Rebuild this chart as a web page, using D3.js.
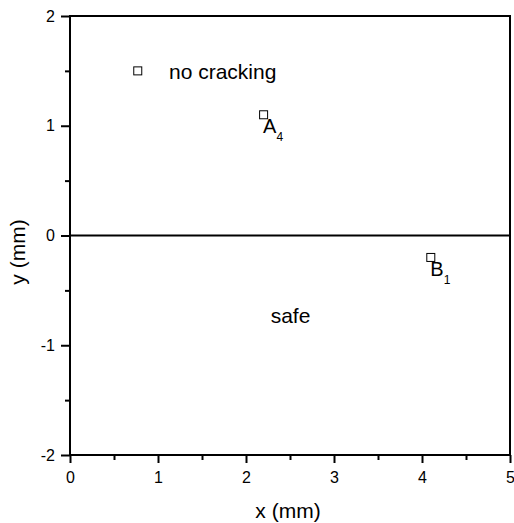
<!DOCTYPE html>
<html lang="en">
<head>
<meta charset="utf-8">
<title>Cracking map</title>
<script src="https://cdn.jsdelivr.net/npm/d3@7"></script>
<style>
  body { margin: 0; background: #fff; }
  text, tspan { font-family: Arial, "Liberation Sans", sans-serif; fill: #000; }
</style>
</head>
<body>
<script>
// data
var xTicks = [0, 1, 2, 3, 4, 5];
var yTicks = [-2, -1, 0, 1, 2];
var pointNames = ["A", "B"];
var pointSubs = ["4", "1"];
var pointX = [2.2, 4.1];
var pointY = [1.1, -0.2];
var legendText = "no cracking";
var legendX = 0.77, legendY = 1.5;
var regionText = "safe";
var regionX = 2.28, regionY = -0.8;

var w = 514, h = 523;
var padL = 70, padR = 510, padT = 16, padB = 455;

var svg = d3.select("body").append("svg")
  .attr("width", w).attr("height", h);

var x = d3.scaleLinear().domain([0, 5]).range([padL, padR]);
var y = d3.scaleLinear().domain([-2, 2]).range([padB, padT]);

//Frame
svg.append("rect")
  .attr("x", padL).attr("y", padT)
  .attr("width", padR - padL).attr("height", padB - padT)
  .attr("fill", "none").attr("stroke", "#000").attr("stroke-width", 2);

//Bottom axis with minor ticks
var xAxis = svg.append("g")
  .attr("transform", "translate(0," + padB + ")");
xAxis.call(d3.axisBottom(x).tickValues(d3.range(0.5, 5, 1)).tickSize(5).tickFormat(""));
xAxis.append("g").call(d3.axisBottom(x).tickValues(xTicks).tickSize(8).tickPadding(9)
  .tickFormat(function(d) { return String(d); }));

//Left axis with minor ticks
var yAxis = svg.append("g")
  .attr("transform", "translate(" + padL + ",0)");
yAxis.call(d3.axisLeft(y).tickValues(d3.range(-1.5, 2, 1)).tickSize(5).tickFormat(""));
yAxis.append("g").call(d3.axisLeft(y).tickValues(yTicks).tickSize(9).tickPadding(6)
  .tickFormat(function(d) { return String(d); }));

svg.selectAll(".domain").remove();
svg.selectAll(".tick line").attr("stroke", "#000").attr("stroke-width", 2);
svg.selectAll(".tick text")
  .style("font-family", "Arial, 'Liberation Sans', sans-serif")
  .style("font-size", "16px").attr("fill", "#000");

//Zero line
svg.append("line")
  .attr("x1", x(0)).attr("x2", x(5))
  .attr("y1", y(0)).attr("y2", y(0))
  .attr("stroke", "#000").attr("stroke-width", 2);

//Axis titles
svg.append("text")
  .attr("x", 288).attr("y", 518)
  .attr("text-anchor", "middle").style("font-size", "21px")
  .text("x (mm)");
svg.append("text")
  .attr("transform", "translate(25,252) rotate(-90)")
  .attr("text-anchor", "middle").style("font-size", "21px")
  .text("y (mm)");

//Points
var sq = 8;
svg.selectAll("rect.pt").data(pointX).enter().append("rect")
  .attr("class", "pt")
  .attr("x", function(d) { return x(d) - sq / 2; })
  .attr("y", function(d, i) { return y(pointY[i]) - sq / 2; })
  .attr("width", sq).attr("height", sq)
  .attr("fill", "none").attr("stroke", "#000").attr("stroke-width", 1);

//Point labels with subscripts
svg.selectAll("text.lab").data(pointX).enter().append("text")
  .attr("class", "lab")
  .attr("x", function(d) { return x(d) - 0.5; })
  .attr("y", function(d, i) { return y(pointY[i]) + 18.5; })
  .style("font-size", "20px")
  .each(function(d, i) {
    var t = d3.select(this);
    t.append("tspan").text(pointNames[i]);
    t.append("tspan").attr("dy", 8).attr("fill", "#000")
      .style("font-size", "12px").text(pointSubs[i]);
  });

//Legend
svg.append("rect")
  .attr("x", x(legendX) - sq / 2).attr("y", y(legendY) - sq / 2)
  .attr("width", sq).attr("height", sq)
  .attr("fill", "none").attr("stroke", "#000").attr("stroke-width", 1);
svg.append("text")
  .attr("x", 169).attr("y", y(legendY) + 8)
  .style("font-size", "21px")
  .text(legendText);

//Region label
svg.append("text")
  .attr("x", x(regionX)).attr("y", y(regionY))
  .style("font-size", "21px")
  .text(regionText);
</script>
</body>
</html>
